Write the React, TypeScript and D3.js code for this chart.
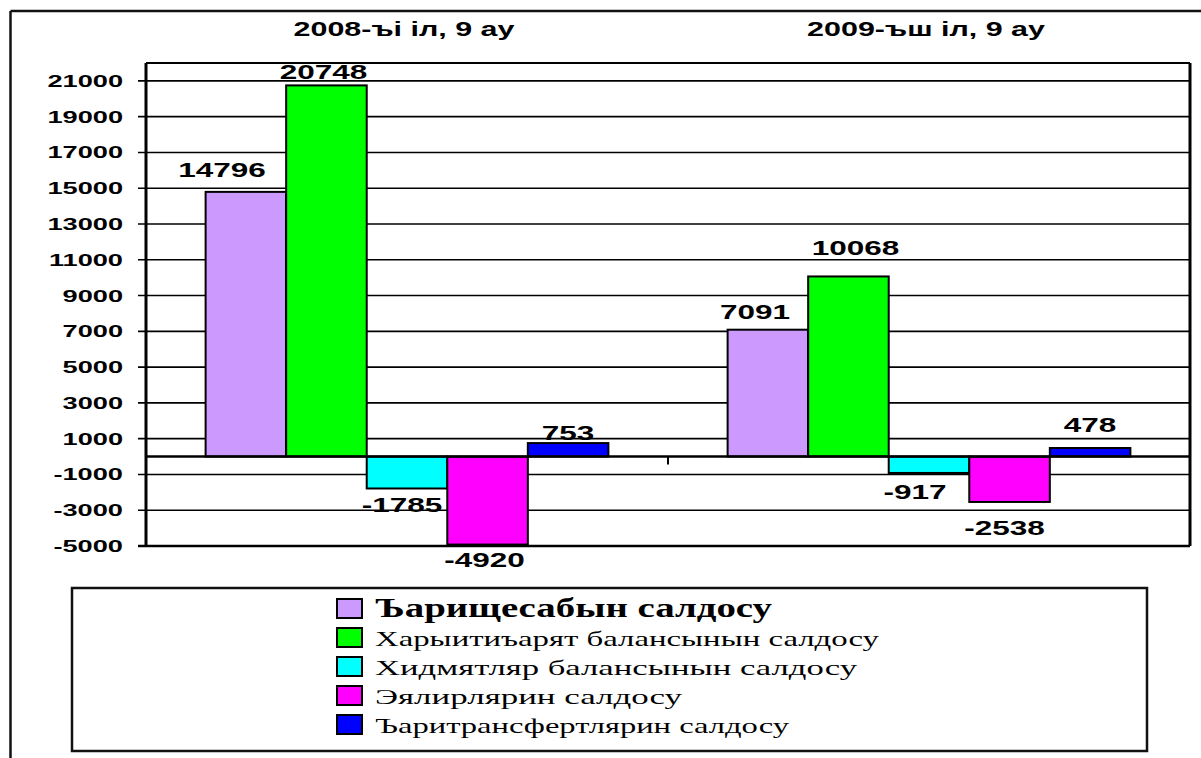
import * as d3 from 'd3';

const categories = ['2008-ъі іл, 9 ау', '2009-ъш іл, 9 ау'];
const seriesNames = [
  'Ъарищесабын салдосу',
  'Харыитиъарят балансынын салдосу',
  'Хидмятляр балансынын салдосу',
  'Эялирлярин салдосу',
  'Ъаритрансфертлярин салдосу',
];
const values2008 = [14796, 20748, -1785, -4920, 753];
const values2009 = [7091, 10068, -917, -2538, 478];
const yTicks = [21000, 19000, 17000, 15000, 13000, 11000, 9000, 7000, 5000, 3000, 1000, -1000, -3000, -5000];
const colors = ['#cc99ff', '#00ff00', '#00ffff', '#ff00ff', '#0000ff'];

// hand-placed label nudges from the original (dx, dy) per group / series
const labelNudge = [
  [[-24, -9], [-3, 0], [-5, 2], [-3, 0], [0, 3]],
  [[-13, -5], [7, -15], [-14, 4], [-5, 11], [0, -10]],
];
// stretched legend text widths
const legendWidths = [397, 504, 482, 307, 414];

const W = 1201;
const H = 758;
const plot = { left: 146, right: 1190, top: 63, bottom: 546 };
const SX = 1.5; // horizontal stretch of all text in the original
const sans = '"Liberation Sans", Arial, sans-serif';
const serif = '"Liberation Serif", "Times New Roman", serif';

export default function App() {
  const groups = [values2008, values2009];
  const y = d3.scaleLinear().domain([-5000, 22000]).range([plot.bottom, plot.top]);
  const x0 = d3.scaleBand<string>().domain(categories).range([plot.left, plot.right]).padding(0);
  const x1 = d3
    .scaleBand<string>()
    .domain(seriesNames)
    .range([0, x0.bandwidth()])
    .paddingInner(0)
    .paddingOuter(0.74);
  const y0 = y(0);

  return (
    <svg
      width={W}
      height={H}
      style={{ position: 'absolute', left: 0, top: 0, background: '#fff' }}
    >
      {/* outer frame */}
      <line x1={10.5} y1={11} x2={W} y2={11} stroke="#111" strokeWidth={2.5} />
      <line x1={10.5} y1={11} x2={10.5} y2={H} stroke="#111" strokeWidth={2.5} />

      {/* gridlines + y ticks */}
      {yTicks.map((t) => (
        <g key={t}>
          <line x1={plot.left - 8} x2={plot.right} y1={y(t)} y2={y(t)} stroke="#000" strokeWidth={t === -5000 ? 2.5 : 1.6} />
          <text
            transform={`translate(${123},${y(t) + 6}) scale(1.6,1)`}
            textAnchor="end"
            fontFamily={sans}
            fontWeight="bold"
            fontSize={17}
          >
            {t}
          </text>
        </g>
      ))}
      {/* plot borders */}
      <line x1={plot.left} x2={plot.right} y1={plot.top} y2={plot.top} stroke="#000" strokeWidth={2} />
      <line x1={plot.right} x2={plot.right} y1={plot.top} y2={plot.bottom} stroke="#000" strokeWidth={3} />
      <line x1={plot.left} x2={plot.left} y1={plot.top} y2={plot.bottom + 1} stroke="#000" strokeWidth={3} />

      {/* category titles */}
      {categories.map((c) => (
        <text
          key={c}
          transform={`translate(${x0(c)! + x0.bandwidth() / 2 - 3},${36}) scale(1.45,1)`}
          textAnchor="middle"
          fontFamily={sans}
          fontWeight="bold"
          fontSize={21}
        >
          {c}
        </text>
      ))}

      {/* bars */}
      {categories.map((c, gi) =>
        groups[gi].map((v, si) => {
          const bx = x0(c)! + x1(seriesNames[si])!;
          const top = Math.min(y(v), y0);
          const h = Math.abs(y(v) - y0);
          return (
            <rect
              key={`${gi}-${si}`}
              x={bx}
              y={top}
              width={x1.bandwidth()}
              height={h}
              fill={colors[si]}
              stroke="#000"
              strokeWidth={2}
            />
          );
        })
      )}

      {/* zero line + category tick */}
      <line x1={plot.left} x2={plot.right} y1={y0} y2={y0} stroke="#000" strokeWidth={2.5} />
      {categories.slice(1).map((c) => (
        <line key={c} x1={x0(c)!} x2={x0(c)!} y1={y0} y2={y0 + 8} stroke="#000" strokeWidth={2} />
      ))}

      {/* data labels */}
      {categories.map((c, gi) =>
        groups[gi].map((v, si) => {
          const cx = x0(c)! + x1(seriesNames[si])! + x1.bandwidth() / 2;
          const base = v >= 0 ? y(v) - 6 : y(v) + 22;
          const [dx, dy] = labelNudge[gi][si];
          return (
            <text
              key={`l-${gi}-${si}`}
              transform={`translate(${cx + dx},${base + dy}) scale(${SX},1)`}
              textAnchor="middle"
              fontFamily={sans}
              fontWeight="bold"
              fontSize={21}
            >
              {v}
            </text>
          );
        })
      )}

      {/* legend */}
      <rect x={72} y={588} width={1075} height={163} fill="#fff" stroke="#111" strokeWidth={2.5} />
      {seriesNames.map((s, i) => {
        const base = 617 + i * 29;
        return (
          <g key={s}>
            <rect x={337} y={base - 18} width={25} height={19} fill={colors[i]} stroke="#000" strokeWidth={2} />
            <text
              x={375}
              y={base}
              fontFamily={serif}
              fontWeight={i === 0 ? 'bold' : 'normal'}
              fontSize={i === 0 ? 27 : 22}
              textLength={legendWidths[i]}
              lengthAdjust="spacingAndGlyphs"
            >
              {s}
            </text>
          </g>
        );
      })}
    </svg>
  );
}
